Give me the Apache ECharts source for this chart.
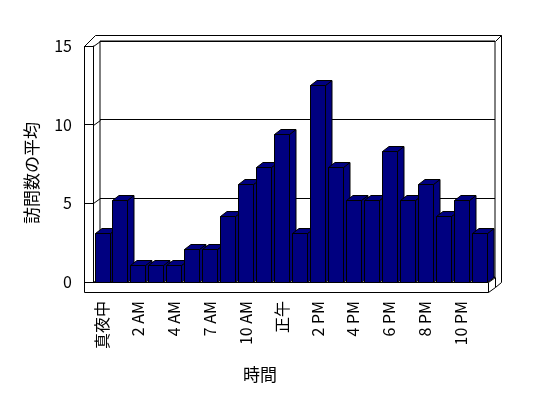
<!DOCTYPE html>
<html>
<head>
<meta charset="utf-8">
<script src="https://cdn.jsdelivr.net/npm/echarts@6/dist/echarts.min.js"></script>
<style>
  html, body { margin: 0; padding: 0; background: #fff; }
  #chart { width: 548px; height: 398px; }
</style>
</head>
<body>
<div id="chart"></div>
<script>
// 時間帯（22 区分）
const hours = ['真夜中', '1 AM', '2 AM', '3 AM', '4 AM', '5 AM', '7 AM', '8 AM', '10 AM', '11 AM',
  '正午', '1 PM', '2 PM', '3 PM', '4 PM', '5 PM', '6 PM', '7 PM', '8 PM', '9 PM', '10 PM', '11 PM']
// 訪問数の平均
const visits = [3.1, 5.2, 1.1, 1.1, 1.1, 2.1, 2.1, 4.2, 6.2, 7.3, 9.4, 3.1, 12.5, 7.3, 5.2, 5.2,
  8.3, 5.2, 6.2, 4.2, 5.2, 3.1]
const yTicks = [0, 5, 10, 15]

const FONT = '"Noto Sans CJK JP", sans-serif'
const NAVY = '#000080'
// 奥行きのずれ
const DX = 6.5
const DY = -5

const chart = echarts.init(document.getElementById('chart'))

// 3D 風の棒を描く
function renderItem(params, api) {
  const idx = api.value(0)
  const top = api.coord([idx, api.value(1)])
  const base = api.coord([idx, 0])
  const bw = api.size([1, 0])[0]
  const x0 = Math.round(base[0] - bw / 2 + 1.5) + 0.5
  const w = Math.round(bw * 0.83)
  const y1 = Math.round(top[1]) + 0.5
  const y0 = Math.round(base[1]) + 0.5
  const style = { fill: NAVY, stroke: '#000', lineWidth: 1 }
  return {
    type: 'group',
    children: [
      { type: 'polygon', shape: { points: [[x0 + w, y1], [x0 + w + DX, y1 + DY], [x0 + w + DX, y0 + DY], [x0 + w, y0]] }, style: style },
      { type: 'polygon', shape: { points: [[x0, y1], [x0 + DX, y1 + DY], [x0 + w + DX, y1 + DY], [x0 + w, y1]] }, style: style },
      { type: 'rect', shape: { x: x0, y: y1, width: w, height: y0 - y1 }, style: style },
    ],
  }
}

const option = {
  backgroundColor: '#fff',
  animation: false,
  textStyle: { fontFamily: FONT },
  grid: [
    { left: 100, top: 41, width: 395, height: 236, show: true, borderColor: '#000', borderWidth: 1, backgroundColor: '#fff' },
    { left: 93, top: 46, width: 395, height: 236 },
  ],
  xAxis: [
    { gridIndex: 0, type: 'category', data: hours, show: false },
    {
      gridIndex: 1,
      type: 'category',
      data: hours,
      axisLine: { lineStyle: { color: '#000', width: 1 } },
      axisTick: { length: 10, interval: 0, lineStyle: { color: '#000' } },
      axisLabel: { interval: 1, rotate: 90, margin: 19, fontSize: 16, color: '#000', fontFamily: FONT },
    },
  ],
  yAxis: [
    {
      gridIndex: 0,
      type: 'value',
      min: 0,
      max: 15,
      interval: 5,
      axisLabel: { show: false },
      axisLine: { show: false },
      axisTick: { show: false },
      splitLine: { lineStyle: { color: '#000', width: 1 } },
    },
    {
      gridIndex: 1,
      type: 'value',
      min: 0,
      max: 15,
      interval: 5,
      axisLine: { show: true, lineStyle: { color: '#000' } },
      axisTick: { show: true, length: 9, lineStyle: { color: '#000' } },
      axisLabel: { margin: 21, fontSize: 16, color: '#000', fontFamily: FONT },
      splitLine: { show: false },
    },
  ],
  series: [
    {
      type: 'custom',
      xAxisIndex: 1,
      yAxisIndex: 1,
      renderItem: renderItem,
      data: visits.map((v, i) => [i, v]),
      z: 5,
    },
  ],
}

chart.setOption(option)

// 壁と床の枠線
const lineStyle = { stroke: '#000', lineWidth: 1, fill: null }
const graphics = []
yTicks.forEach((v) => {
  const yf = Math.round(chart.convertToPixel({ yAxisIndex: 1 }, v)) + 0.5
  const yb = Math.round(chart.convertToPixel({ yAxisIndex: 0 }, v)) + 0.5
  graphics.push({ type: 'line', z: 1, shape: { x1: 93.5, y1: yf, x2: 100.5, y2: yb }, style: lineStyle })
})
graphics.push(
  { type: 'polyline', z: 1, shape: { points: [[84.5, 292.5], [84.5, 46.5], [95.5, 35.5], [501.5, 35.5], [501.5, 282.5], [495.5, 287.5]] }, style: lineStyle },
  { type: 'line', z: 1, shape: { x1: 84.5, y1: 46.5, x2: 93.5, y2: 46.5 }, style: lineStyle },
  { type: 'line', z: 1, shape: { x1: 84.5, y1: 292.5, x2: 488.5, y2: 292.5 }, style: lineStyle },
  { type: 'line', z: 1, shape: { x1: 495.5, y1: 41.5, x2: 501.5, y2: 35.5 }, style: lineStyle },
  { type: 'polygon', z: 1, shape: { points: [[488.5, 282.5], [495.5, 277.5], [495.5, 287.5], [488.5, 292.5]] }, style: { stroke: '#000', lineWidth: 1, fill: '#fff' } },
  {
    type: 'text', z: 1, x: 32, y: 173, rotation: Math.PI / 2,
    style: { text: '訪問数の平均', font: '17px ' + FONT, align: 'center', verticalAlign: 'middle', fill: '#000' },
  },
  {
    type: 'text', z: 1, x: 260, y: 375,
    style: { text: '時間', font: '17px ' + FONT, align: 'center', verticalAlign: 'middle', fill: '#000' },
  }
)
chart.setOption({ graphic: graphics })
</script>
</body>
</html>
